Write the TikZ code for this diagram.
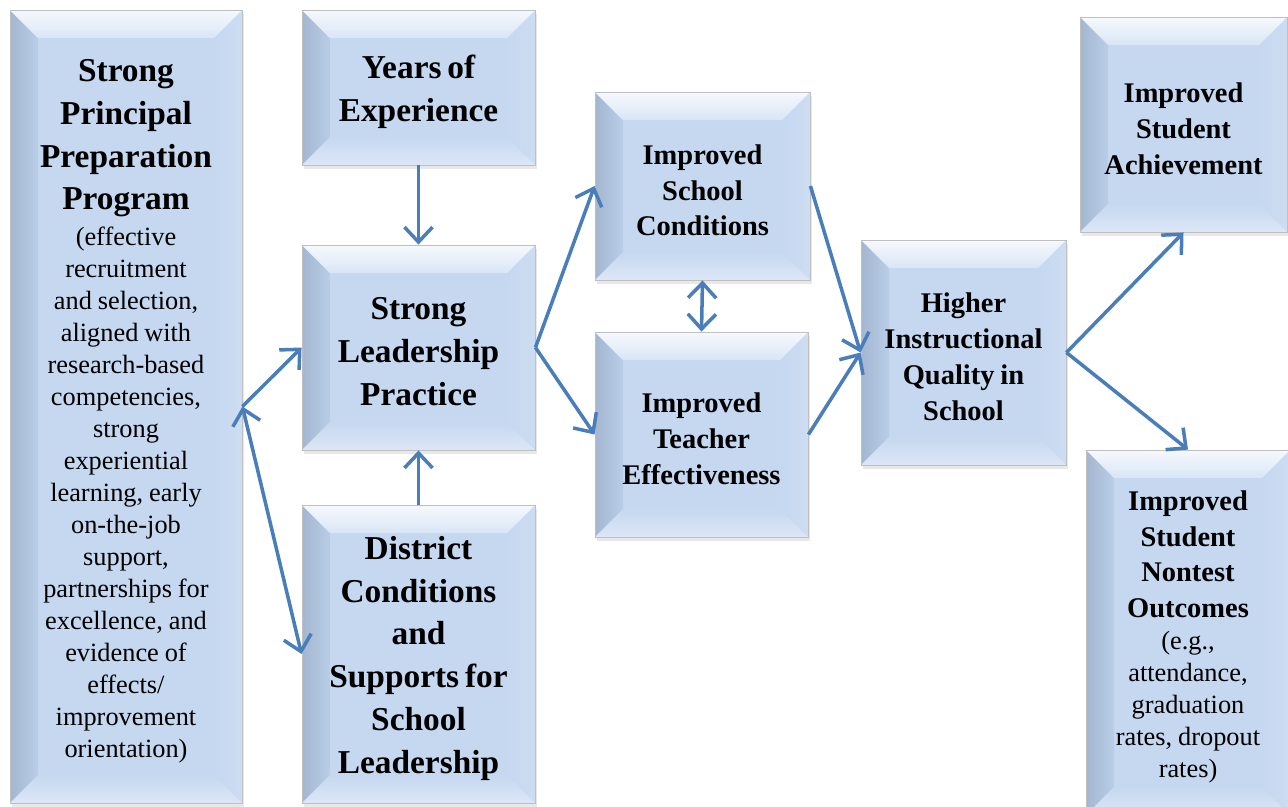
\documentclass[tikz,border=0pt]{standalone}
\usepackage{fontspec}
\setmainfont{Liberation Serif}
\usetikzlibrary{arrows.meta,calc,shadows}
\definecolor{boxc}{HTML}{C5D8F0}
\definecolor{boxl}{HTML}{B2C6E2}
\definecolor{boxr}{HTML}{CDDDF2}
\definecolor{boxb}{HTML}{DCE7F6}
\definecolor{boxt}{HTML}{F6F9FD}
\definecolor{arr}{HTML}{4A7EBB}
\newcommand\bigt{\fontsize{19}{24.4}\selectfont\bfseries}
\newcommand\medt{\fontsize{16.2}{20.4}\selectfont\bfseries}
\newcommand\smlt{\fontsize{15}{18.2}\selectfont\mdseries}
\tikzset{
  bevel/.style={rectangle, draw=black!25, line width=0.5pt, fill=boxc, inner sep=0pt,
    drop shadow={opacity=0.18, shadow xshift=1.2pt, shadow yshift=-2.2pt},
    path picture={
      \def\bv{0.56cm}
      \coordinate (pnw) at (path picture bounding box.north west);
      \coordinate (pne) at (path picture bounding box.north east);
      \coordinate (psw) at (path picture bounding box.south west);
      \coordinate (pse) at (path picture bounding box.south east);
      \coordinate (inw) at ($(pnw)+(\bv,-\bv)$);
      \coordinate (ine) at ($(pne)+(-\bv,-\bv)$);
      \coordinate (isw) at ($(psw)+(\bv,\bv)$);
      \coordinate (ise) at ($(pse)+(-\bv,\bv)$);
      \fill[left color=boxl!92!black, right color=boxl!60!boxc] (pnw) -- (inw) -- (isw) -- (psw) -- cycle;
      \fill[left color=boxc, right color=boxr] (pne) -- (ine) -- (ise) -- (pse) -- cycle;
      \shade[top color=boxt, bottom color=boxc!65!white] (pnw) -- (pne) -- (ine) -- (inw) -- cycle;
      \shade[top color=boxc, bottom color=boxb] (psw) -- (pse) -- (ise) -- (isw) -- cycle;
    }},
  conn/.style={draw=arr, line width=2pt, >={Straight Barb[length=8.5pt,width=16pt]}},
  btext/.style={align=center, inner sep=0pt, yshift=-2.5pt},
}
\newcommand\bbox[6]{%
  \node[bevel, minimum width={(#4-#2)*0.02cm}, minimum height={(#5-#3)*0.02cm}] (#1) at ({(#2+#4)/2},{(#3+#5)/2}) {};
  \node[btext, text width={(#4-#2)*0.02cm}] (#1t) at (#1.center) {#6};
}
\begin{document}
\begin{tikzpicture}[x=0.02cm,y=-0.02cm]
\useasboundingbox (0,0) rectangle (1288,806);
\bbox{A}{10}{10}{242}{803}{\bigt Strong\\Principal\\Preparation\\Program\par\vspace{2pt}
  \smlt (effective\\recruitment\\and selection,\\aligned with\\research-based\\competencies,\\strong\\experiential\\learning, early\\on-the-job\\support,\\partnerships for\\excellence, and\\evidence of\\effects/\\improvement\\orientation)\par}
\bbox{Y}{302}{10}{535}{165}{\bigt Years of\\Experience\par}
\bbox{S}{302}{245}{535}{450}{\bigt Strong\\Leadership\\Practice\par}
\bbox{D}{302}{505}{535}{803}{\bigt District\\Conditions\\and\\Supports for\\School\\Leadership\par}
\bbox{C}{595}{92}{810}{280}{\medt Improved\\School\\Conditions\par}
\bbox{T}{595}{332}{808}{537}{\medt Improved\\Teacher\\Effectiveness\par}
\bbox{H}{861}{240}{1066}{465}{\medt Higher\\Instructional\\Quality in\\School\par}
\bbox{R}{1080}{17}{1287}{232}{\medt Improved\\Student\\Achievement\par}
\bbox{N}{1086}{450}{1290}{815}{\medt Improved\\Student\\Nontest\\Outcomes\par
  \smlt (e.g.,\\attendance,\\graduation\\rates, dropout\\rates)\par}

\draw[conn,->] (Y.south) -- (S.north);
\draw[conn,->] (D.north) -- (S.south);
\draw[conn,->] (A.east) -- (S.west);
\draw[conn,<->] (A.east) -- (D.west);
\draw[conn,->] (S.east) -- (C.west);
\draw[conn,->] (S.east) -- (T.west);
\draw[conn,<->] (C.south) -- (T.north);
\draw[conn,->] (C.east) -- (H.west);
\draw[conn,->] (T.east) -- (H.west);
\draw[conn,->] (H.east) -- (R.south);
\draw[conn,->] (H.east) -- (N.north);
\end{tikzpicture}
\end{document}
